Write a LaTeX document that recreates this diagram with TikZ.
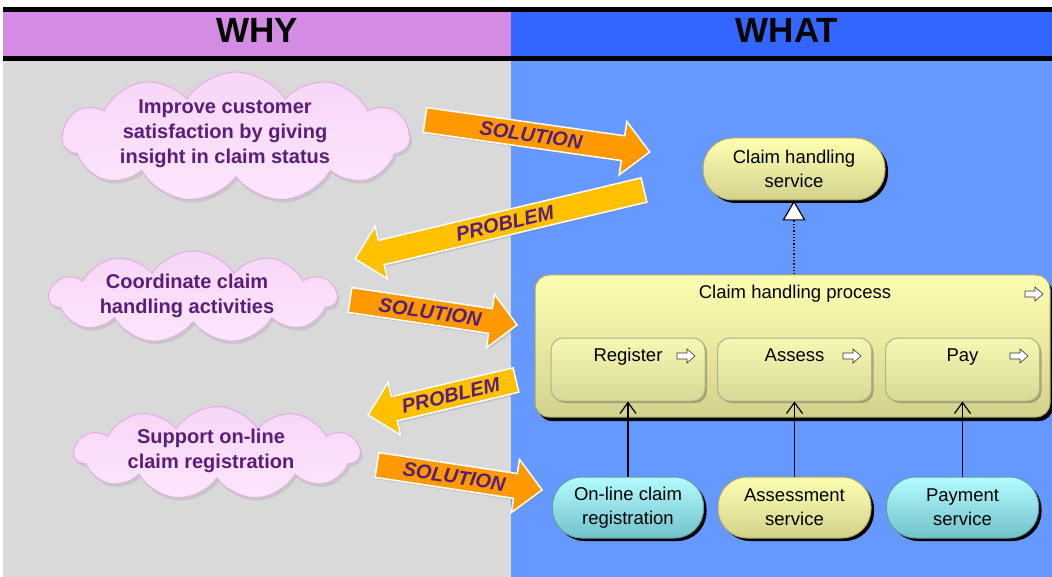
\documentclass[tikz,border=0pt]{standalone}
\usepackage{fontspec}
\setmainfont{Liberation Sans}
\usetikzlibrary{shapes.symbols,shadows,arrows.meta,calc}
\definecolor{hdrpurple}{HTML}{D38BE3}
\definecolor{hdrblue}{HTML}{3366FF}
\definecolor{bodygray}{HTML}{D9D9D9}
\definecolor{bodyblue}{HTML}{6699FF}
\definecolor{txtpurple}{HTML}{5A1E78}
\definecolor{solorange}{HTML}{FF9900}
\definecolor{probyellow}{HTML}{FFC000}
\definecolor{cloudtop}{HTML}{F7D6F7}
\definecolor{cloudbot}{HTML}{FDE6FD}
\definecolor{cloudedge}{HTML}{E2AEE2}
\definecolor{yeltop}{HTML}{FFFFB2}
\definecolor{yelbot}{HTML}{D2D28C}
\definecolor{yeledge}{HTML}{A6A66E}
\definecolor{cyantop}{HTML}{B2FCFF}
\definecolor{cyanbot}{HTML}{72C2CA}
\definecolor{cyanedge}{HTML}{5E9EA6}
\definecolor{subtop}{HTML}{F8F8B4}
\definecolor{subbot}{HTML}{D8D896}
\definecolor{subedge}{HTML}{B0B090}

% #1 name, #2 tail, #3 angle, #4 length, #5 colour, #6 text, #7 text angle, #8 text position along
\newcommand\blockarrow[8]{%
  \begin{scope}[shift={#2}, rotate=#3]
    \filldraw[fill=#5, draw=white, line width=1.5pt, line join=miter,
      drop shadow={shadow xshift=2pt, shadow yshift=-2pt, opacity=0.25}]
      (0,-12.5) -- ({#4-27},-12.5) -- ({#4-27},-27) -- (#4,0) --
      ({#4-27},27) -- ({#4-27},12.5) -- (0,12.5) -- cycle;
    \node[arrowtext, rotate=#7] (#1) at (#8,0) {#6};
  \end{scope}}

\newcommand\procicon[1]{%
  \draw[fill=white, draw=black!80, line width=0.6pt, line join=miter]
    ($#1+(-9,-3)$) -- ++(10,0) -- ++(0,-4) -- ++(8,7) -- ++(-8,7)
    -- ++(0,-4) -- ++(-10,0) -- cycle;}

\begin{document}
\begin{tikzpicture}[x=1pt, y=-1pt,
  hdr/.style={font=\fontsize{35}{40}\selectfont\bfseries, text=black, inner sep=0pt},
  cloudbox/.style={cloud, cloud puffs=11, cloud puff arc=115, cloud ignores aspect,
    draw=cloudedge, line width=1pt, top color=cloudtop, bottom color=cloudbot,
    drop shadow={shadow xshift=2pt, shadow yshift=-3pt, opacity=0.2}},
  cloudtext/.style={align=center, font=\fontsize{20}{25}\selectfont\bfseries, text=txtpurple},
  arrowtext/.style={font=\fontsize{20}{24}\selectfont\bfseries\itshape, text=txtpurple, inner sep=0pt},
  svcbase/.style={rectangle, rounded corners=30pt, minimum width=182pt, minimum height=62pt,
    line width=1pt, align=center, font=\fontsize{18.5}{24}\selectfont,
    drop shadow={shadow xshift=3pt, shadow yshift=-3pt, fill=black, opacity=1}},
  yelsvc/.style={svcbase, draw=yeledge, top color=yeltop, bottom color=yelbot},
  cyansvc/.style={svcbase, draw=cyanedge, top color=cyantop, bottom color=cyanbot},
  procbox/.style={rectangle, rounded corners=14pt, draw=yeledge, line width=1pt,
    top color=yeltop, bottom color=yelbot,
    drop shadow={shadow xshift=3pt, shadow yshift=-4pt, fill=black, opacity=1}},
  subbox/.style={rectangle, rounded corners=12pt, draw=subedge, line width=1pt,
    top color=subtop, bottom color=subbot, minimum width=154pt, minimum height=63pt,
    drop shadow={shadow xshift=2pt, shadow yshift=-2pt, fill=black, opacity=0.25}},
  lbl/.style={font=\fontsize{18.5}{22}\selectfont, text height=14pt, text depth=4pt, inner sep=0pt},
  realize/.style={dotted, line width=1.3pt,
    -{Triangle[open, fill=white, length=20pt, width=23pt, line width=1.2pt]}},
  serves/.style={line width=1.2pt, -{Straight Barb[length=11pt, width=16pt, line width=1.2pt]}}
]
\useasboundingbox (0,0) rectangle (1052,577);
\fill[white] (0,0) rectangle (1052,577);
% header bands
\fill[black] (3,7) rectangle (1052,61);
\fill[hdrpurple] (3,12) rectangle (511,56);
\fill[hdrblue] (511,12) rectangle (1052,56);
\fill[bodygray] (3,61) rectangle (511,577);
\fill[bodyblue] (511,61) rectangle (1052,577);
\node[hdr] (why) at (257,30) {WHY};
\node[hdr] (what) at (787,30) {WHAT};

% clouds
\node[cloudbox, minimum width=347pt, minimum height=130pt] (c1) at (236,137) {};
\node[cloudtext] (t1) at (225,134) {Improve customer\\satisfaction by giving\\insight in claim status};
\node[cloudbox, minimum width=287pt, minimum height=92pt] (c2) at (193,297) {};
\node[cloudtext] (t2) at (187,296) {Coordinate claim\\handling activities};
\node[cloudbox, minimum width=285pt, minimum height=93pt] (c3) at (217,453) {};
\node[cloudtext] (t3) at (211,451) {Support on-line\\claim registration};

% block arrows
\blockarrow{sol1}{(425,120)}{-8.1}{227}{solorange}{SOLUTION}{-8.1}{107}
\blockarrow{prob1}{(644,190)}{193.4}{297}{probyellow}{PROBLEM}{13.4}{143}
\blockarrow{sol2}{(350,300)}{-8.5}{169}{solorange}{SOLUTION}{-8.5}{81}
\blockarrow{prob2}{(516,380)}{193.3}{152}{probyellow}{PROBLEM}{13.3}{67}
\blockarrow{sol3}{(377,465)}{-8.6}{167}{solorange}{SOLUTION}{-8.6}{78}

% right side
\node[yelsvc] (svc) at (794,169) {Claim handling\\service};
\node[procbox, minimum width=515pt, minimum height=142pt] (proc) at (792.5,346) {};
\node[lbl] (proct) at (795,294) {Claim handling process};
\procicon{(1034,294)}
\node[subbox] (reg) at (628,369.5) {};
\node[subbox] (ass) at (794.5,369.5) {};
\node[subbox] (pay) at (962.5,369.5) {};
\node[lbl] (regt) at (628,356) {Register};
\node[lbl] (asst) at (794.5,356) {Assess};
\node[lbl] (payt) at (962.5,356) {Pay};
\procicon{(686,356)}
\procicon{(852,356)}
\procicon{(1019,356)}

\node[cyansvc, minimum width=151pt, minimum height=61pt, rounded corners=29pt] (onl) at (628,507.5) {On-line claim\\registration};
\node[yelsvc, minimum width=153pt, minimum height=61pt, rounded corners=29pt] (asv) at (794.5,507.5) {Assessment\\service};
\node[cyansvc, minimum width=152pt, minimum height=61pt, rounded corners=29pt] (psv) at (962.5,507.5) {Payment\\service};

\draw[realize] (proc.north -| svc.south) -- (svc.south);
\draw[serves] (onl.north) -- (reg.south);
\draw[serves] (asv.north) -- (ass.south);
\draw[serves] (psv.north) -- (pay.south);
\end{tikzpicture}
\end{document}
